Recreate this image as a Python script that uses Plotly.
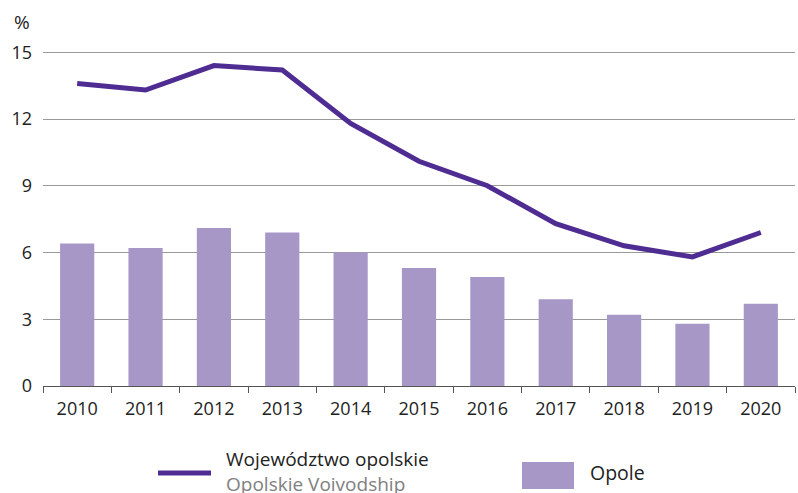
import plotly.graph_objects as go

# Share of the population (%) by year
years = ["2010", "2011", "2012", "2013", "2014", "2015", "2016", "2017", "2018", "2019", "2020"]
voivodship = [13.6, 13.3, 14.4, 14.2, 11.8, 10.1, 9.0, 7.3, 6.3, 5.8, 6.9]
opole = [6.4, 6.2, 7.1, 6.9, 6.0, 5.3, 4.9, 3.9, 3.2, 2.8, 3.7]
y_ticks = [0, 3, 6, 9, 12, 15]

LINE_COLOR = "#4E2C92"
BAR_COLOR = "#A797C7"
FONT = "Open Sans"

W, H = 798, 493
ML, MR, MT, MB = 43, 3, 30, 107


def px_x(x):
    return (x - ML) / (W - ML - MR)


def px_y(y):
    return (H - MB - y) / (H - MT - MB)


fig = go.Figure()
fig.add_trace(go.Bar(x=years, y=opole, marker=dict(color=BAR_COLOR, line=dict(width=0)),
                     width=0.5, showlegend=False))
fig.add_trace(go.Scatter(x=years, y=voivodship, mode="lines",
                         line=dict(color=LINE_COLOR, width=5), showlegend=False))

# Hand-placed legend
fig.add_shape(type="line", xref="paper", yref="paper",
              x0=px_x(158), x1=px_x(211), y0=px_y(473), y1=px_y(473),
              line=dict(color=LINE_COLOR, width=5))
fig.add_shape(type="rect", xref="paper", yref="paper",
              x0=px_x(522), x1=px_x(574), y0=px_y(489), y1=px_y(462),
              fillcolor=BAR_COLOR, line=dict(width=0))
fig.add_annotation(text="Województwo opolskie<br><span style='color:#808080'>Opolskie Voivodship</span>",
                   xref="paper", yref="paper", align="left",
                   x=px_x(224), y=px_y(471), xanchor="left", yanchor="middle",
                   showarrow=False, font=dict(family=FONT, size=19, color="#222"))
fig.add_annotation(text="Opole", xref="paper", yref="paper",
                   x=px_x(588), y=px_y(473), xanchor="left", yanchor="middle",
                   showarrow=False, font=dict(family=FONT, size=19.5, color="#222"))
fig.add_annotation(text="%", xref="paper", yref="paper",
                   x=px_x(22), y=px_y(22), xanchor="center", yanchor="middle",
                   showarrow=False, font=dict(family=FONT, size=19, color="#222"))

fig.update_layout(
    width=W, height=H,
    margin=dict(l=ML, r=MR, t=MT, b=MB),
    paper_bgcolor="white", plot_bgcolor="white",
    font=dict(family=FONT, size=18, color="#222"),
    bargap=0.5,
)
fig.update_xaxes(
    type="category", range=[-0.5, 10.5],
    showline=True, linecolor="#555", linewidth=1,
    ticks="outside", tickson="boundaries", ticklen=6, tickcolor="#555",
    showgrid=False, tickfont=dict(size=18), ticklabelstandoff=6,
)
fig.update_yaxes(
    range=[0, 16], tickvals=y_ticks, ticktext=[str(v) for v in y_ticks],
    showgrid=True, gridcolor="#9A9A9A", gridwidth=1,
    zeroline=False, showline=False, ticks="", ticklabelstandoff=10,
    tickfont=dict(size=18),
)

fig.write_html("out.html")
